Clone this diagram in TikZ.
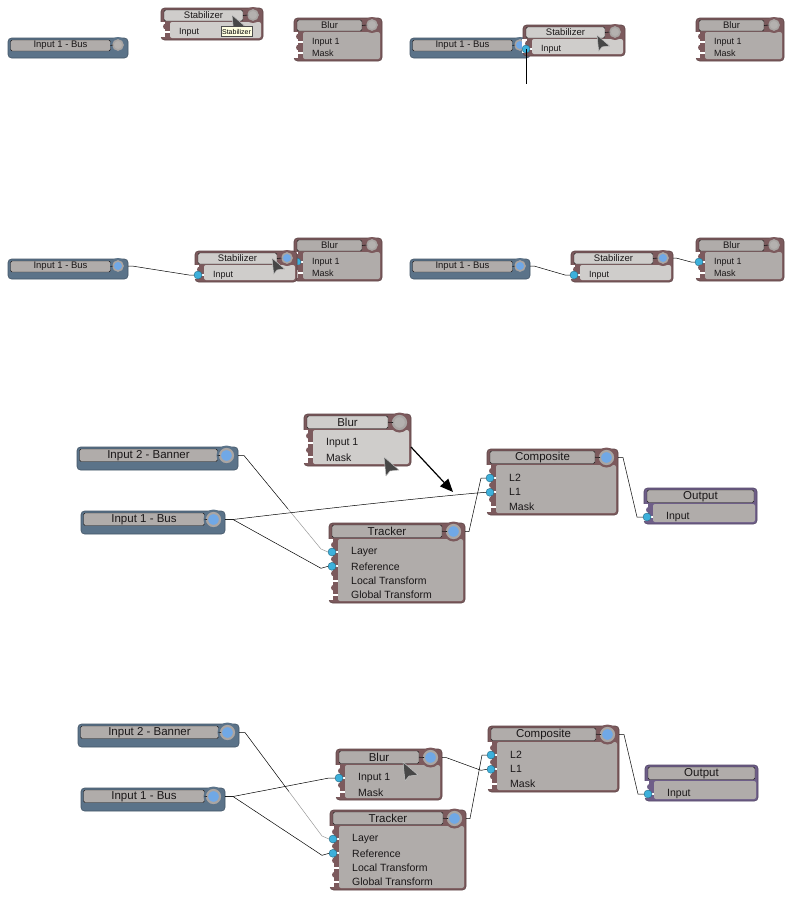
\documentclass[tikz,border=0pt]{standalone}
\usepackage{fontspec}
\setmainfont{Liberation Sans}
\usepackage{tikz}
\usetikzlibrary{arrows.meta,calc}
\definecolor{busblue}{HTML}{5B7389}
\definecolor{opmauve}{HTML}{7C5A5D}
\definecolor{outpurple}{HTML}{6E5E88}
\definecolor{panelgray}{HTML}{B0ACAA}
\definecolor{panellight}{HTML}{CFCDCB}
\definecolor{knobon}{HTML}{70A8E6}
\definecolor{knoboff}{HTML}{B4B1AF}
\definecolor{knobring}{HTML}{A9A5A3}
\definecolor{portcyan}{HTML}{3DB0DB}
\definecolor{tipyellow}{HTML}{FFFFE1}
\definecolor{inkdark}{HTML}{1A1718}
\tikzset{
  body/.style={rectangle,rounded corners=3.5pt,anchor=north west,inner sep=0pt,outer sep=0pt,draw=#1!75!black,line width=0.6pt,fill=#1},
  panel/.style={rectangle,rounded corners=2pt,anchor=north west,inner sep=0pt,outer sep=0pt},
  notch/.style={rectangle,anchor=north west,fill=white,inner sep=0pt,outer sep=0pt,minimum width=5pt},
  bump/.style={circle,inner sep=0pt,minimum size=6pt},
  portoff/.style={rectangle,fill=white,inner sep=0pt,minimum width=8pt,minimum height=2pt},
  porton/.style={circle,fill=portcyan,draw=portcyan!60!black,line width=0.4pt,inner sep=0pt,minimum size=8pt,outer sep=0pt},
  stub/.style={draw=inkdark,line width=0.6pt},
  wire/.style={draw=black,line width=0.5pt},
  wirepale/.style={draw=black!40,line width=0.5pt},
  pointer/.style={fill=black!72,draw=black!22,line width=0.5pt,line join=round},
  hint/.style={rectangle,draw=black!70,fill=tipyellow,line width=0.4pt,inner sep=1pt,font=\fontsize{7}{8}\selectfont,minimum width=31pt,minimum height=10pt},
}
\newcommand{\smallparts}{%
  \def\titleh{11}\def\titley{2}\def\panely{14}\def\knobx{10}\def\knoby{7}%
  \def\rowa{24}\def\rowd{11}\def\labx{18}\def\titlegap{20}%
  \tikzset{
    knob/.style={circle,draw=knobring,line width=1.6pt,inner sep=0pt,outer sep=0pt,minimum size=10pt},
    knobhalo/.style={circle,inner sep=0pt,minimum size=16pt},
    titlebar/.style={rectangle,rounded corners=1.5pt,draw=inkdark,line width=0.4pt,anchor=north west,inner sep=0pt,outer sep=0pt,text=inkdark,font=\fontsize{9.5}{11}\selectfont},
    portlab/.style={anchor=west,inner sep=0pt,text=inkdark,font=\fontsize{9}{10}\selectfont},
  }%
}
\newcommand{\bigparts}{%
  \def\titleh{12.5}\def\titley{2}\def\panely{16}\def\knobx{11.5}\def\knoby{8.5}%
  \def\rowa{29}\def\rowd{14.3}\def\labx{22}\def\titlegap{23}%
  \tikzset{
    knob/.style={circle,draw=knobring,line width=2.2pt,inner sep=0pt,outer sep=0pt,minimum size=13pt},
    knobhalo/.style={circle,inner sep=0pt,minimum size=20pt},
    titlebar/.style={rectangle,rounded corners=1.5pt,draw=inkdark,line width=0.4pt,anchor=north west,inner sep=0pt,outer sep=0pt,text=inkdark,font=\fontsize{11.5}{13}\selectfont},
    portlab/.style={anchor=west,inner sep=0pt,text=inkdark,font=\fontsize{10.5}{12}\selectfont},
  }%
}
\newcommand{\knobat}[3]{%
  \node[knobhalo,fill=#2] (#1-h) at ([xshift=-\knobx,yshift=-\knoby]#1.north east) {};
  \node[knob,fill=#3] (#1-o) at (#1-h) {};
  \draw[stub] (#1-t.east) -- (#1-o.west);
}
\newcommand{\busnode}[7]{%
  \node[body=busblue,minimum width=#4,minimum height=#5] (#1) at (#2,#3) {};
  \node[titlebar,fill=panelgray,minimum width=#4-\titlegap,minimum height=\titleh] (#1-t) at ([xshift=2.5pt,yshift=-\titley]#1.north west) {#7};
  \knobat{#1}{busblue}{#6}
}
\newcommand{\framed}[8]{%
  \node[body=#6,minimum width=#4,minimum height=#5] (#1) at (#2,#3) {};
  \node[notch,minimum height=#5-\panely-3] (#1-w) at ([xshift=-1pt,yshift=-\panely]#1.north west) {};
  \node[panel,fill=#7,minimum width=#4-11,minimum height=#5-\panely-2] (#1-p) at ([xshift=9pt,yshift=-\panely]#1.north west) {};
  \node[titlebar,fill=#7,minimum width=#8,minimum height=\titleh] (#1-t) at ([xshift=3pt,yshift=-\titley]#1.north west) {\thetitle};
}
\newcommand{\opnode}[8]{%
  \def\thetitle{#8}%
  \framed{#1}{#2}{#3}{#4}{#5}{opmauve}{#6}{#4-\titlegap-3}
  \knobat{#1}{opmauve}{#7}
}
\newcommand{\outnode}[5]{%
  \def\thetitle{#5}%
  \framed{#1}{#2}{#3}{#4}{36}{outpurple}{panelgray}{#4-6}
}
\newcommand{\portrows}[3]{%
  \foreach \lab/\i/\st in {#3} {
    \pgfmathsetmacro{\ry}{\rowa+(\i-1)*\rowd}
    \node[bump,fill=#2] (#1-b\i) at ([xshift=5pt,yshift=-\ry+\rowd/2]#1.north west) {};
    \node[portoff] (#1-n\i) at ([xshift=5pt,yshift=-\ry]#1.north west) {};
    \node[\st] (#1-\i) at ([xshift=3pt,yshift=-\ry]#1.north west) {};
    \node[portlab] (#1-l\i) at ([xshift=\labx,yshift=-\ry]#1.north west) {\lab};
  }
}
\newcommand{\cursorat}[4]{%
  \coordinate (#1) at (#2,#3);
  \draw[pointer,shift={(#1)},scale=#4] (0,0) -- (15,13) -- (6,14) -- (2,19) -- cycle;
}
\begin{document}
\begin{tikzpicture}[x=1pt,y=-1pt]
\useasboundingbox (0,0) rectangle (791,897);
\smallparts
\busnode{busa}{8}{38}{120}{20}{knoboff}{Input 1 - Bus}
\opnode{stba}{161}{8}{102}{32}{panellight}{knoboff}{Stabilizer}
\portrows{stba}{opmauve}{Input/1/portoff}
\opnode{blra}{294}{18}{88}{43}{panelgray}{knoboff}{Blur}
\portrows{blra}{opmauve}{Input 1/1/portoff,Mask/2/portoff}
\cursorat{cura}{232}{15}{0.85}
\node[hint] (tipa) at (236.5,31.5) {Stabilizer};

\busnode{busb}{410}{38}{120}{20}{knobon}{Input 1 - Bus}
\opnode{stbb}{523}{25}{102}{31}{panellight}{knoboff}{Stabilizer}
\portrows{stbb}{opmauve}{Input/1/porton}
\opnode{blrb}{696}{18}{88}{43}{panelgray}{knoboff}{Blur}
\portrows{blrb}{opmauve}{Input 1/1/portoff,Mask/2/portoff}
\cursorat{curb}{597}{35}{0.85}
\coordinate (dragb) at (stbb-1 |- 0,84);
\draw[wire,line width=0.9pt] (stbb-1.center) -- (dragb);

\busnode{busc}{8}{259}{120}{20}{knobon}{Input 1 - Bus}
\opnode{blrc}{294}{238}{88}{43}{panelgray}{knoboff}{Blur}
\portrows{blrc}{opmauve}{Input 1/1/porton,Mask/2/portoff}
\opnode{stbc}{195}{251}{102}{31}{panellight}{knobon}{Stabilizer}
\portrows{stbc}{opmauve}{Input/1/porton}
\cursorat{curc}{272}{258}{0.85}
\draw[wire] (busc.east |- busc-o) -- ++(4,0) -- ([xshift=-5pt]stbc-1.west) -- (stbc-1.west);

\busnode{busd}{410}{259}{120}{20}{knobon}{Input 1 - Bus}
\opnode{stbd}{571}{251}{102}{31}{panellight}{knobon}{Stabilizer}
\portrows{stbd}{opmauve}{Input/1/porton}
\opnode{blrd}{696}{238}{88}{43}{panelgray}{knoboff}{Blur}
\portrows{blrd}{opmauve}{Input 1/1/porton,Mask/2/portoff}
\draw[wire] (busd.east |- busd-o) -- ++(4,0) -- ([xshift=-5pt]stbd-1.west) -- (stbd-1.west);
\draw[wire] (stbd.east |- stbd-o) -- ++(3,0) -- ([xshift=-4pt]blrd-1.west) -- (blrd-1.west);

\bigparts
\busnode{bane}{77}{447}{161}{23}{knobon}{Input 2 - Banner}
\busnode{buse}{81}{511}{144}{23}{knobon}{Input 1 - Bus}
\opnode{blre}{304}{414}{107}{52}{panellight}{knoboff}{Blur}
\portrows{blre}{opmauve}{Input 1/1/portoff,Mask/2/portoff}
\opnode{trke}{329}{523}{136}{80}{panelgray}{knobon}{Tracker}
\portrows{trke}{opmauve}{Layer/1/porton,Reference/2/porton,Local Transform/3/portoff,Global Transform/4/portoff}
\opnode{cmpe}{487}{449}{131}{66}{panelgray}{knobon}{Composite}
\portrows{cmpe}{opmauve}{L2/1/porton,L1/2/porton,Mask/3/portoff}
\outnode{oute}{644}{488}{113}{Output}
\portrows{oute}{outpurple}{Input/1/porton}
\cursorat{cure}{384}{457}{1}
\coordinate (dropa) at (453,492);
\draw[-{Triangle[length=13pt,width=11pt]},draw=black,line width=1.2pt] ([yshift=19pt]blre.south east) -- (dropa);
\coordinate (bane-a) at ($(bane.east |- bane-o)+(6,0)$);
\coordinate (bane-b) at ($(trke-1.west)+(-7,-3)$);
\coordinate (bane-m) at ($(bane-a)!.57!(bane-b)$);
\draw[wire] (bane.east |- bane-o) -- (bane-a) -- (bane-m);
\draw[wirepale] (bane-m) -- (bane-b) -- (trke-1.west);
\draw[wire] (buse.east |- buse-o) -- ++(8,0) .. controls +(100,-12) and +(-40,3) .. (cmpe-2.west);
\draw[wire] (buse.east |- buse-o) -- ++(8,0) -- ([xshift=-7pt,yshift=-2pt]trke-2.west) -- (trke-2.west);
\draw[wire] (trke.east |- trke-o) -- ++(4,0) -- ([xshift=-5pt]cmpe-1.west) -- (cmpe-1.west);
\draw[wire] (cmpe.east |- cmpe-o) -- ++(5,0) -- ([xshift=-6pt]oute-1.west) -- (oute-1.west);

\busnode{banf}{78}{724}{161}{23}{knobon}{Input 2 - Banner}
\busnode{busf}{81}{788}{144}{23}{knobon}{Input 1 - Bus}
\opnode{blrf}{336}{749}{106}{51}{panelgray}{knobon}{Blur}
\portrows{blrf}{opmauve}{Input 1/1/porton,Mask/2/portoff}
\opnode{trkf}{330}{810}{136}{80}{panelgray}{knobon}{Tracker}
\portrows{trkf}{opmauve}{Layer/1/porton,Reference/2/porton,Local Transform/3/portoff,Global Transform/4/portoff}
\opnode{cmpf}{488}{726}{131}{66}{panelgray}{knobon}{Composite}
\portrows{cmpf}{opmauve}{L2/1/porton,L1/2/porton,Mask/3/portoff}
\outnode{outf}{645}{765}{113}{Output}
\portrows{outf}{outpurple}{Input/1/porton}
\cursorat{curf}{403}{762}{1}
\coordinate (banf-a) at ($(banf.east |- banf-o)+(6,0)$);
\coordinate (banf-b) at ($(trkf-1.west)+(-7,-3)$);
\coordinate (banf-m) at ($(banf-a)!.57!(banf-b)$);
\draw[wire] (banf.east |- banf-o) -- (banf-a) -- (banf-m);
\draw[wirepale] (banf-m) -- (banf-b) -- (trkf-1.west);
\draw[wire] (busf.east |- busf-o) -- ++(8,0) -- ([xshift=-6pt]blrf-1.west) -- (blrf-1.west);
\draw[wire] (busf.east |- busf-o) -- ++(8,0) -- ([xshift=-7pt,yshift=-2pt]trkf-2.west) -- (trkf-2.west);
\draw[wire] (blrf.east |- blrf-o) -- ++(4,0) -- ([xshift=-6pt,yshift=-1pt]cmpf-2.west) -- (cmpf-2.west);
\draw[wire] (trkf.east |- trkf-o) -- ++(4,0) -- ([xshift=-5pt]cmpf-1.west) -- (cmpf-1.west);
\draw[wire] (cmpf.east |- cmpf-o) -- ++(5,0) -- ([xshift=-6pt]outf-1.west) -- (outf-1.west);
\end{tikzpicture}
\end{document}
